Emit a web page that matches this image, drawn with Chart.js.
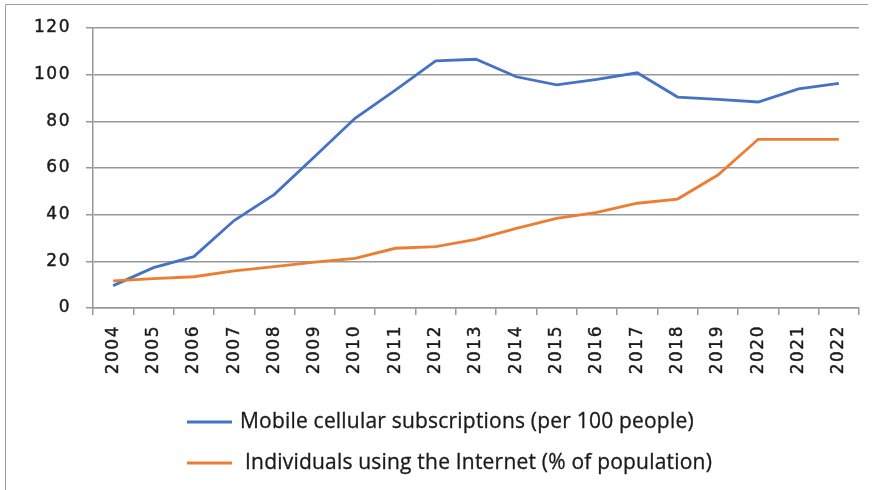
<!DOCTYPE html>
<html>
<head>
<meta charset="utf-8">
<script src="https://cdn.jsdelivr.net/npm/chart.js@4/dist/chart.umd.min.js"></script>
<style>
  html, body { margin: 0; padding: 0; background: #ffffff; }
  #wrap { width: 874px; height: 490px; position: relative; }
</style>
</head>
<body>
<div id="wrap"><canvas id="chart" width="874" height="490"></canvas></div>
<script>
// Years on the category axis
const years = ['2004', '2005', '2006', '2007', '2008', '2009', '2010', '2011', '2012', '2013',
               '2014', '2015', '2016', '2017', '2018', '2019', '2020', '2021', '2022'];

// Mobile cellular subscriptions (per 100 people)
const mobileSubscriptions = [9.6, 17.3, 22.0, 37.5, 48.7, 64.9, 81.3, 93.4, 105.9, 106.6,
                             99.1, 95.6, 98.0, 100.8, 90.4, 89.4, 88.3, 93.9, 96.3];

// Individuals using the Internet (% of population)
const internetUsers = [11.6, 12.6, 13.4, 15.9, 17.7, 19.7, 21.3, 25.6, 26.3, 29.4,
                       34.1, 38.4, 41.0, 44.9, 46.7, 57.0, 72.3, 72.3, 72.3];

// Value axis range
const yMin = 0;
const yMax = 120;
const yStep = 20;

const seriesNames = ['Mobile cellular subscriptions (per 100 people)',
                     'Individuals using the Internet (% of population)'];

const BLUE = '#4472C4';
const ORANGE = '#ED7D31';
const GRID = '#979797';
const TEXT = '#1a1a1a';

// Frame, letter spacing and the stacked legend under the plot
const framePlugin = {
  id: 'frameAndLegend',
  beforeDraw(chart) {
    const ctx = chart.ctx;
    ctx.save();
    ctx.strokeStyle = '#a0a0a0';
    ctx.lineWidth = 1;
    ctx.beginPath();
    ctx.moveTo(5.5, 490);
    ctx.lineTo(5.5, 4.5);
    ctx.lineTo(868, 4.5);
    ctx.stroke();
    ctx.restore();
    ctx.letterSpacing = '1.5px';
  },
  afterDraw(chart) {
    const ctx = chart.ctx;
    ctx.save();
    ctx.letterSpacing = '0.2px';
    const rows = [422, 463];
    const textX = [240, 245];
    chart.data.datasets.forEach((ds, i) => {
      const y = rows[i];
      ctx.strokeStyle = ds.borderColor;
      ctx.lineWidth = 3;
      ctx.beginPath();
      ctx.moveTo(187, y);
      ctx.lineTo(232, y);
      ctx.stroke();
      ctx.fillStyle = TEXT;
      ctx.strokeStyle = TEXT;
      ctx.lineWidth = 0.3;
      ctx.font = '21px "Open Sans"';
      ctx.textBaseline = 'middle';
      ctx.textAlign = 'left';
      ctx.fillText(ds.label, textX[i], y);
      ctx.strokeText(ds.label, textX[i], y);
    });
    ctx.restore();
  }
};

const tickFont = { family: 'DejaVu Sans', size: 17 };

new Chart(document.getElementById('chart'), {
  type: 'line',
  data: {
    labels: years,
    datasets: [
      {
        label: seriesNames[0],
        data: mobileSubscriptions,
        borderColor: BLUE,
        backgroundColor: BLUE,
        borderWidth: 2.8,
        pointRadius: 0,
        tension: 0,
        order: 1
      },
      {
        label: seriesNames[1],
        data: internetUsers,
        borderColor: ORANGE,
        backgroundColor: ORANGE,
        borderWidth: 2.8,
        pointRadius: 0,
        tension: 0,
        order: 0
      }
    ]
  },
  options: {
    responsive: false,
    animation: false,
    layout: { padding: { top: 28, right: 15, bottom: 102, left: 0 } },
    plugins: {
      legend: { display: false },
      tooltip: { enabled: false }
    },
    scales: {
      x: {
        offset: true,
        grid: {
          offset: true,
          drawOnChartArea: false,
          drawTicks: true,
          tickLength: 7,
          color: GRID,
          lineWidth: 1.5
        },
        border: { color: GRID, width: 1.5 },
        ticks: {
          autoSkip: false,
          minRotation: 90,
          maxRotation: 90,
          padding: 10,
          color: TEXT,
          textStrokeColor: TEXT,
          textStrokeWidth: 0.4,
          font: tickFont
        },
        afterFit(axis) { axis.height = 80; }
      },
      y: {
        min: yMin,
        max: yMax,
        grid: {
          color: GRID,
          lineWidth: 1.5,
          tickLength: 7
        },
        border: { color: GRID, width: 1.5 },
        ticks: {
          stepSize: yStep,
          padding: 15,
          color: TEXT,
          textStrokeColor: TEXT,
          textStrokeWidth: 0.4,
          font: tickFont
        },
        afterFit(axis) { axis.width = 93; }
      }
    }
  },
  plugins: [framePlugin]
});
</script>
</body>
</html>
